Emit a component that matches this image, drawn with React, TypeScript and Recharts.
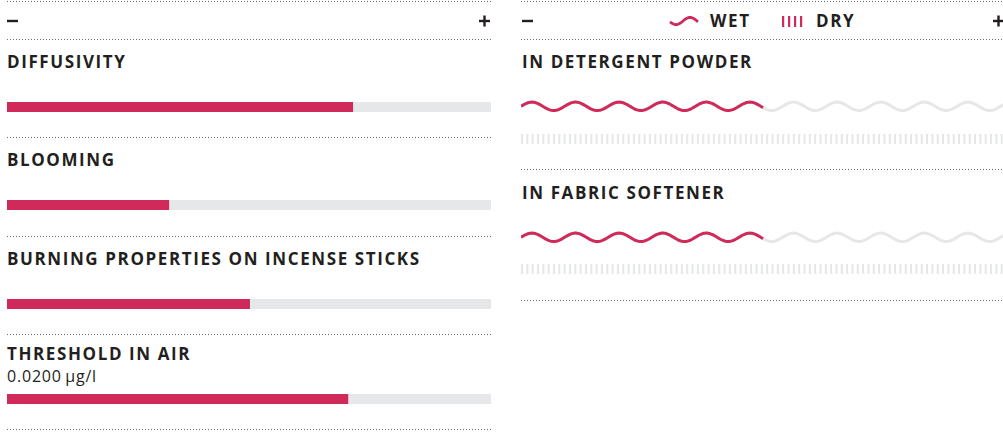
import { Bar, BarChart, XAxis, YAxis } from "recharts";

const RED = "#cf2a5a";
const GREY = "#e6e7e8";
const INK = "#231f20";
const DOTS = "#6d6e71";

// left panel: olfactive properties, 0..100 scale
const properties = ["DIFFUSIVITY", "BLOOMING", "BURNING PROPERTIES ON INCENSE STICKS", "THRESHOLD IN AIR"];
const propertyValues = [71.5, 33.5, 50.2, 70.5];
const propertyNotes = ["", "", "", "0.0200\u2009µg/l"];

// right panel: substantivity, wet / dry
const applications = ["IN DETERGENT POWDER", "IN FABRIC SOFTENER"];
const wetValues = [50.2, 50.2];
const dryValues = [0, 0];
const legendLabels = ["WET", "DRY"];

// layout
const LEFT_X = 7;
const RIGHT_X = 521;
const PANEL_W = 484;
const barTops = [101, 199, 298, 393];
const titleBaselines = [68, 166, 265, 360];
const leftRules = [1, 39, 137, 236, 334, 429];
const rightRules = [1, 39, 169, 300];
const waveTops = [99, 230];
const stripeTops = [133, 263];
const appBaselines = [68, 199];

const WAVE_PERIOD = 43.6;
const WAVE_AMP = 4.2;
const STRIPE_STEP = 5.33;

const titleFont = {
  fontFamily: "'Open Sans', sans-serif",
  fontWeight: 700,
  fontSize: 17,
  letterSpacing: 1.6,
  fill: INK,
};

function wavePath(x0: number, x1: number, cy: number, origin: number) {
  let d = "";
  for (let x = x0; x <= x1 + 0.01; x += 1) {
    const xx = Math.min(x, x1);
    const y = cy - WAVE_AMP * Math.sin((2 * Math.PI * (xx - origin)) / WAVE_PERIOD);
    d += (d ? " L" : "M") + xx.toFixed(2) + " " + y.toFixed(2);
  }
  return d;
}

function makeWave(color: string) {
  return (props: any) => {
    const { x, y, width, height } = props;
    if (!width || width <= 0) return <g />;
    return (
      <path
        d={wavePath(x, x + width, y + height / 2, x)}
        fill="none"
        stroke={color}
        strokeWidth={3}
      />
    );
  };
}

function makeStripes(color: string) {
  return (props: any) => {
    const { x, y, width, height } = props;
    if (!width || width <= 0) return <g />;
    const rects = [];
    for (let sx = x; sx + 2 <= x + width + 0.5; sx += STRIPE_STEP) {
      rects.push(<rect key={sx} x={sx} y={y} width={2} height={height} fill={color} />);
    }
    return <g>{rects}</g>;
  };
}

function PropertyBar({ value, top }: { value: number; top: number }) {
  return (
    <div style={{ position: "absolute", left: LEFT_X, top }}>
      <BarChart
        width={PANEL_W}
        height={11}
        layout="vertical"
        data={[{ name: "v", value }]}
        margin={{ top: 0, right: 0, bottom: 0, left: 0 }}
        barCategoryGap={0}
      >
        <XAxis type="number" domain={[0, 100]} hide />
        <YAxis type="category" dataKey="name" hide />
        <Bar dataKey="value" fill={RED} background={{ fill: GREY }} barSize={11} isAnimationActive={false} />
      </BarChart>
    </div>
  );
}

function WaveRow({ value, top }: { value: number; top: number }) {
  return (
    <div style={{ position: "absolute", left: RIGHT_X, top }}>
      <BarChart
        width={PANEL_W}
        height={14}
        layout="vertical"
        data={[{ name: "wet", value }]}
        margin={{ top: 0, right: 0, bottom: 0, left: 0 }}
        barCategoryGap={0}
      >
        <XAxis type="number" domain={[0, 100]} hide />
        <YAxis type="category" dataKey="name" hide />
        <Bar
          dataKey="value"
          barSize={14}
          background={makeWave(GREY)}
          shape={makeWave(RED)}
          isAnimationActive={false}
        />
      </BarChart>
    </div>
  );
}

function StripeRow({ value, top }: { value: number; top: number }) {
  return (
    <div style={{ position: "absolute", left: RIGHT_X, top }}>
      <BarChart
        width={PANEL_W}
        height={11}
        layout="vertical"
        data={[{ name: "dry", value }]}
        margin={{ top: 0, right: 0, bottom: 0, left: 0 }}
        barCategoryGap={0}
      >
        <XAxis type="number" domain={[0, 100]} hide />
        <YAxis type="category" dataKey="name" hide />
        <Bar
          dataKey="value"
          barSize={11}
          background={makeStripes(GREY)}
          shape={makeStripes(RED)}
          isAnimationActive={false}
        />
      </BarChart>
    </div>
  );
}

function Plus({ cx }: { cx: number }) {
  return (
    <g fill={INK}>
      <rect x={cx - 5.5} y={19.8} width={11} height={2.4} />
      <rect x={cx - 1.2} y={15.5} width={2.4} height={11} />
    </g>
  );
}

export default function App() {
  return (
    <div
      style={{
        position: "absolute",
        left: 0,
        top: 0,
        width: 1003,
        height: 433,
        overflow: "hidden",
        background: "#fff",
      }}
    >
      {propertyValues.map((v, i) => (
        <PropertyBar key={properties[i]} value={v} top={barTops[i]} />
      ))}
      {wetValues.map((v, i) => (
        <WaveRow key={"w" + i} value={v} top={waveTops[i]} />
      ))}
      {dryValues.map((v, i) => (
        <StripeRow key={"d" + i} value={v} top={stripeTops[i]} />
      ))}

      <svg width={1003} height={433} style={{ position: "absolute", left: 0, top: 0, pointerEvents: "none" }}>
        {leftRules.map((y) => (
          <line key={"l" + y} x1={LEFT_X} x2={LEFT_X + PANEL_W} y1={y + 0.5} y2={y + 0.5} stroke={DOTS} strokeDasharray="1 2" />
        ))}
        {rightRules.map((y) => (
          <line key={"r" + y} x1={RIGHT_X} x2={RIGHT_X + PANEL_W} y1={y + 0.5} y2={y + 0.5} stroke={DOTS} strokeDasharray="1 2" />
        ))}

        {/* scale ends */}
        <rect x={7} y={19.8} width={11} height={2.4} fill={INK} />
        <Plus cx={484.5} />
        <rect x={522} y={19.8} width={11} height={2.4} fill={INK} />
        <Plus cx={998.5} />

        {/* legend */}
        <path
          d={(() => {
            let d = "";
            for (let x = 670; x <= 698; x += 1) {
              const y = 21 - 3.6 * Math.sin((2 * Math.PI * (x - 683)) / 28);
              d += (d ? " L" : "M") + x + " " + y.toFixed(2);
            }
            return d;
          })()}
          fill="none"
          stroke={RED}
          strokeWidth={2.8}
        />
        <text x={710} y={27} {...titleFont}>{legendLabels[0]}</text>
        {[0, 1, 2, 3].map((k) => (
          <rect key={k} x={782 + k * 6} y={16} width={2.2} height={11} fill={RED} />
        ))}
        <text x={816} y={27} {...titleFont}>{legendLabels[1]}</text>

        {properties.map((p, i) => (
          <text key={p} x={LEFT_X} y={titleBaselines[i]} {...titleFont}>{p}</text>
        ))}
        {propertyNotes.map((n, i) =>
          n ? (
            <text key={"n" + i} x={LEFT_X} y={382} fontFamily="'Open Sans', sans-serif" fontSize={16} letterSpacing={0.8} fill={INK}>
              {n}
            </text>
          ) : null
        )}
        {applications.map((a, i) => (
          <text key={a} x={RIGHT_X + 1} y={appBaselines[i]} {...titleFont}>{a}</text>
        ))}
      </svg>
    </div>
  );
}
